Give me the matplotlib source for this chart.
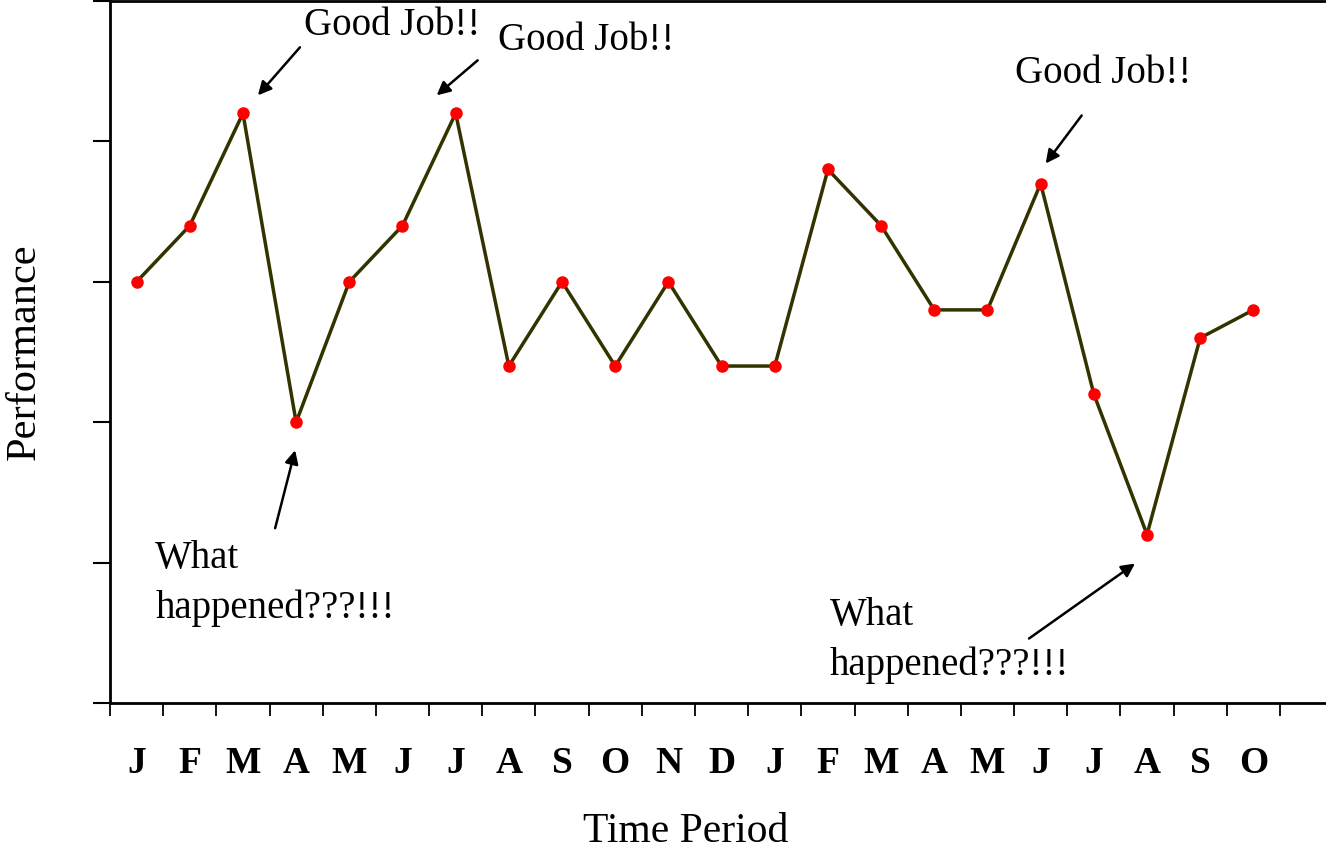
import matplotlib
matplotlib.use('Agg')
import matplotlib.pyplot as plt
from matplotlib.transforms import offset_copy
import numpy as np

plt.rcParams['font.family'] = ['Liberation Serif', 'DejaVu Serif']

months = ['J', 'F', 'M', 'A', 'M', 'J', 'J', 'A', 'S', 'O', 'N',
          'D', 'J', 'F', 'M', 'A', 'M', 'J', 'J', 'A', 'S', 'O']
performance = [3.0, 3.4, 4.2, 2.0, 3.0, 3.4, 4.2, 2.4, 3.0, 2.4, 3.0,
               2.4, 2.4, 3.8, 3.4, 2.8, 2.8, 3.7, 2.2, 1.2, 2.6, 2.8]

# (index of point, text, arrow head offset, arrow tail offset, text offset) in pixels
notes = [
    (2, 'Good Job!!', (15, 18), (57, 66), (61, 88)),
    (6, 'Good Job!!', (-19, 18), (22, 53), (42, 73)),
    (17, 'Good Job!!', (5, 20), (41, 68), (-26, 110)),
    (3, 'What\nhappened???!!!', (-1, -28), (-21, -106), (-141, -161)),
    (19, 'What\nhappened???!!!', (-12, -29), (-118, -104), (-317, -106)),
]

x = np.arange(len(months)) + 0.5

fig = plt.figure(figsize=(13.26, 8.5), dpi=100)
ax = fig.add_axes([110 / 1326, 147 / 850, 1216 / 1326, 702 / 850])

ax.plot(x, performance, color='#333300', lw=2.5, zorder=2)
ax.plot(x, performance, 'o', color='red', ms=8, mec='red', zorder=3)

ax.set_xlim(0, 1216 / 53.18)
ax.set_ylim(0, 5)
ax.set_xticks(np.arange(len(months) + 1))
ax.set_xticklabels([])
ax.set_xticks(x, minor=True)
ax.set_xticklabels(months, minor=True, fontsize=27, fontweight='bold')
ax.tick_params(axis='x', which='major', direction='out', length=9, width=1.3)
ax.tick_params(axis='x', which='minor', length=0, pad=31)
ax.set_yticks(np.arange(6))
ax.set_yticklabels([])
ax.tick_params(axis='y', direction='out', length=12, width=1.5)

for side in ['left', 'bottom', 'top']:
    ax.spines[side].set_linewidth(2)
ax.spines['right'].set_visible(False)

ax.set_xlabel('Time Period', fontsize=30)
ax.xaxis.set_label_coords(576 / 1216, -0.156)
ax.set_ylabel('Performance', fontsize=30.5)
ax.yaxis.set_label_coords(-66 / 1216, 0.5)

for i, txt, head, tail, toff in notes:
    p = (x[i], performance[i])
    tr_head = offset_copy(ax.transData, fig=fig, x=head[0], y=head[1], units='dots')
    tr_tail = offset_copy(ax.transData, fig=fig, x=tail[0], y=tail[1], units='dots')
    ax.annotate('', xy=p, xycoords=tr_head, xytext=p, textcoords=tr_tail,
                arrowprops=dict(arrowstyle='-|>', color='black', lw=1.8,
                                mutation_scale=20, shrinkA=0, shrinkB=0),
                annotation_clip=False)
    ax.annotate(txt, xy=p, xytext=toff, textcoords='offset pixels',
                ha='left', va='center', fontsize=28, linespacing=1.45,
                annotation_clip=False)

fig.savefig('out.png', dpi=100)
